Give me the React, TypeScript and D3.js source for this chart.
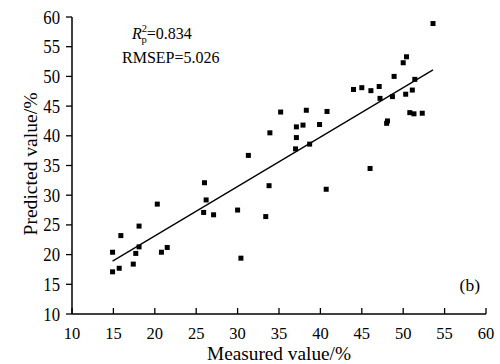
import React from "react";
import { scaleLinear } from "d3";

const measured = [
  14.9, 14.9, 15.7, 15.9, 17.4, 17.7, 18.1, 18.1, 20.3, 20.8, 21.5, 26.0, 26.2, 25.9, 27.1,
  30.0, 30.4, 33.4, 33.8, 31.3, 33.9, 35.2, 37.1, 37.9, 37.1, 37.0, 38.3, 38.7, 39.9, 40.8,
  46.0, 40.7, 44.0, 45.0, 46.1, 47.1, 47.2, 48.0, 48.1, 48.7, 48.9, 50.0, 50.4, 50.3, 51.1,
  51.4, 50.8, 51.3, 52.3, 53.6,
];
const predicted = [
  20.4, 17.1, 17.7, 23.2, 18.4, 20.2, 21.3, 24.8, 28.5, 20.4, 21.2, 32.1, 29.2, 27.1, 26.7,
  27.5, 19.4, 26.4, 31.6, 36.7, 40.5, 44.0, 41.5, 41.8, 39.7, 37.8, 44.3, 38.6, 41.9, 44.1,
  34.5, 31.0, 47.8, 48.1, 47.6, 48.3, 46.3, 42.1, 42.5, 46.6, 50.0, 52.3, 53.3, 47.0, 47.7,
  49.5, 43.9, 43.7, 43.8, 58.9,
];
const fitX = [14.9, 53.6];
const fitSlope = 0.832;
const fitIntercept = 6.5;
const xTicks = [10, 15, 20, 25, 30, 35, 40, 45, 50, 55, 60];
const yTicks = [10, 15, 20, 25, 30, 35, 40, 45, 50, 55, 60];

const font = "'Liberation Serif', 'Times New Roman', serif";
// the original figure's lettering looks slightly stretched vertically
const stretch = 1.1;

export default function App() {
  const x = scaleLinear().domain([10, 60]).range([72, 486]);
  const y = scaleLinear().domain([10, 60]).range([314, 17]);

  return (
    <div style={{ position: "absolute", left: 0, top: 0 }}>
      <svg width={500} height={364} style={{ display: "block", background: "#fff" }} fontFamily={font}>
        {/* axes */}
        <line x1={x(10)} x2={x(60)} y1={y(10)} y2={y(10)} stroke="#000" strokeWidth={1.5} />
        <line x1={x(10)} x2={x(10)} y1={y(10)} y2={y(60)} stroke="#000" strokeWidth={1.5} />
        {xTicks.map((t) => (
          <g key={"x" + t}>
            <line x1={x(t)} x2={x(t)} y1={y(10)} y2={y(10) - 6} stroke="#000" strokeWidth={1.3} />
            <text
              transform={`translate(${x(t)},338.5) scale(1,1.05)`}
              textAnchor="middle"
              fontSize={16.5}
            >
              {t}
            </text>
          </g>
        ))}
        {yTicks.map((t) => (
          <g key={"y" + t}>
            <line x1={x(10) - 6} x2={x(10)} y1={y(t)} y2={y(t)} stroke="#000" strokeWidth={1.3} />
            <text
              transform={`translate(${x(10) - 12},${y(t) + 6.5}) scale(1,${stretch})`}
              textAnchor="end"
              fontSize={16.7}
            >
              {t}
            </text>
          </g>
        ))}
        <text x={(x(10) + x(60)) / 2} y={359.5} textAnchor="middle" fontSize={19.3}>
          Measured value/%
        </text>
        <text
          transform={`translate(36.5,164) scale(1,${stretch}) rotate(-90)`}
          textAnchor="middle"
          fontSize={17.8}
        >
          Predicted value/%
        </text>

        {/* fit line */}
        <line
          x1={x(fitX[0])}
          y1={y(fitSlope * fitX[0] + fitIntercept)}
          x2={x(fitX[1])}
          y2={y(fitSlope * fitX[1] + fitIntercept)}
          stroke="#000"
          strokeWidth={1.3}
        />

        {/* points */}
        {measured.map((m, i) => (
          <rect key={i} x={x(m) - 2.5} y={y(predicted[i]) - 2.5} width={5} height={5} fill="#000" />
        ))}

        {/* annotations */}
        <text x={132} y={39} fontSize={16}>
          <tspan fontStyle="italic">R</tspan>
          <tspan dy={-7} fontSize={10.5}>2</tspan>
          <tspan dx={-5.5} dy={11} fontSize={10.5}>p</tspan>
          <tspan dy={-4}>=0.834</tspan>
        </text>
        <text x={122} y={63} fontSize={16}>
          RMSEP=5.026
        </text>
        <text x={480} y={291} textAnchor="end" fontSize={17.5}>
          (b)
        </text>
      </svg>
    </div>
  );
}
